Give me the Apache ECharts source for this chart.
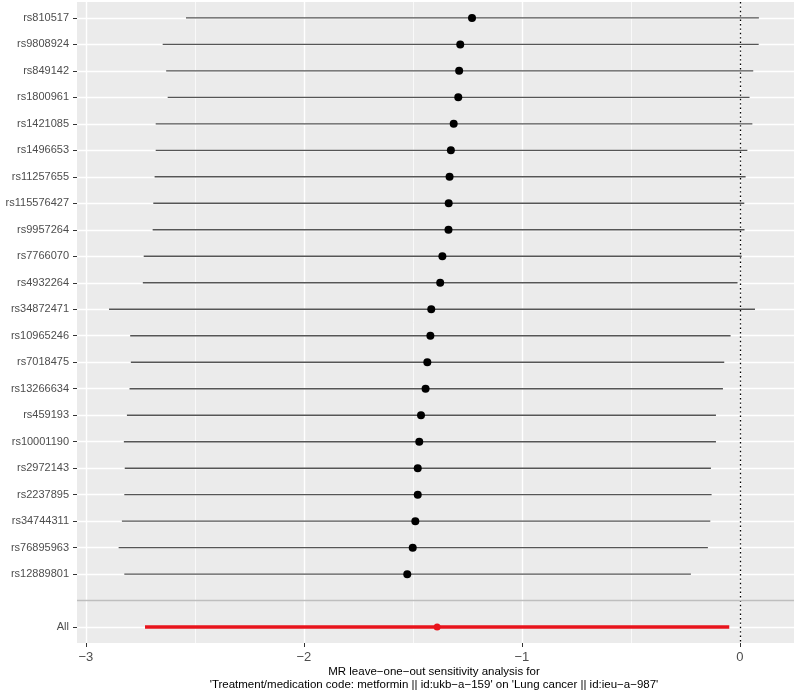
<!DOCTYPE html>
<html>
<head>
<meta charset="utf-8">
<script src="https://cdn.jsdelivr.net/npm/echarts@6/dist/echarts.min.js"></script>
<style>
  html, body { margin: 0; padding: 0; background: #fff; }
  #chart { width: 794px; height: 693px; }
</style>
</head>
<body>
<div id="chart"></div>
<script>
// leave-one-out estimates, top row first
const snps = [
  "rs810517", "rs9808924", "rs849142", "rs1800961", "rs1421085", "rs1496653",
  "rs11257655", "rs115576427", "rs9957264", "rs7766070", "rs4932264", "rs34872471",
  "rs10965246", "rs7018475", "rs13266634", "rs459193", "rs10001190", "rs2972143",
  "rs2237895", "rs34744311", "rs76895963", "rs12889801",
];
const estimates = [
  -1.229, -1.283, -1.288, -1.292, -1.313, -1.326, -1.332, -1.336, -1.337, -1.365, -1.375,
  -1.416, -1.420, -1.434, -1.442, -1.463, -1.471, -1.478, -1.478, -1.489, -1.501, -1.526,
];
const lower = [
  -2.541, -2.648, -2.632, -2.625, -2.680, -2.680, -2.685, -2.691, -2.694, -2.735, -2.739,
  -2.894, -2.797, -2.794, -2.800, -2.812, -2.826, -2.822, -2.824, -2.835, -2.850, -2.824,
];
const upper = [
  0.087, 0.086, 0.061, 0.044, 0.057, 0.034, 0.026, 0.020, 0.021, 0.008, -0.011,
  0.069, -0.043, -0.072, -0.078, -0.110, -0.110, -0.133, -0.130, -0.136, -0.147, -0.225,
];
const overallLabel = "All";
const overallEstimate = [-1.389];
const overallLower = [-2.729];
const overallUpper = [-0.049];
const xTicks = [-3, -2, -1, 0];
const xMinorTicks = [-2.5, -1.5, -0.5];

const rowLabels = [...snps, "", overallLabel];
const blankRow = snps.length;
const allRow = snps.length + 1;
const rowTicks = rowLabels.map((_, i) => i).filter((i) => i !== blankRow);

const font = "Liberation Sans";
const minus = (v) => (v < 0 ? "\u2212" + -v : String(v));

function errorBar(color, width) {
  return (params, api) => {
    const a = api.coord([api.value(0), api.value(2)]);
    const b = api.coord([api.value(1), api.value(2)]);
    return {
      type: "line",
      shape: { x1: a[0], y1: a[1], x2: b[0], y2: b[1] },
      style: { stroke: color, lineWidth: width },
    };
  };
}

const chart = echarts.init(document.getElementById("chart"));

const option = {
  animation: false,
  textStyle: { fontFamily: font },
  grid: {
    left: 77,
    right: 0,
    top: 2,
    bottom: 50,
    show: true,
    backgroundColor: "#EBEBEB",
    borderWidth: 0,
  },
  xAxis: [
    {
      type: "value",
      min: -3.041,
      max: 0.248,
      axisLine: { show: false, onZero: false },
      axisTick: { show: true, customValues: xTicks, length: 4, lineStyle: { color: "#333" } },
      axisLabel: {
        customValues: xTicks,
        formatter: minus,
        color: "#4D4D4D",
        fontSize: 13,
        margin: 8,
      },
      splitLine: { lineStyle: { color: "#fff", width: 1.4 } },
    },
    {
      type: "value",
      min: -3.041,
      max: 0.248,
      position: "bottom",
      axisLine: { show: false, onZero: false },
      axisTick: { show: false, customValues: xMinorTicks },
      axisLabel: { show: false, customValues: xMinorTicks },
      splitLine: { lineStyle: { color: "#fff", width: 0.7 } },
    },
  ],
  yAxis: {
    type: "value",
    inverse: true,
    min: -0.6,
    max: rowLabels.length - 0.4,
    axisLine: { show: false, onZero: false },
    axisTick: { show: true, customValues: rowTicks, length: 4, lineStyle: { color: "#333" } },
    axisLabel: {
      customValues: rowTicks,
      formatter: (v) => rowLabels[v],
      color: "#4D4D4D",
      fontSize: 11,
      margin: 8,
    },
    splitLine: { lineStyle: { color: "#fff", width: 1.4 } },
  },
  series: [
    {
      type: "custom",
      name: "leave-one-out",
      renderItem: errorBar("#555", 1.4),
      encode: { x: [0, 1], y: 2 },
      data: snps.map((s, i) => [lower[i], upper[i], i]),
      z: 2,
      markLine: {
        silent: true,
        symbol: "none",
        label: { show: false },
        data: [
          { xAxis: 0, lineStyle: { color: "#000", width: 1.3, type: [1.4, 3] } },
          { yAxis: blankRow, lineStyle: { color: "#BEBEBE", width: 1.4, type: "solid" } },
        ],
      },
    },
    {
      type: "scatter",
      data: estimates.map((v, i) => [v, i]),
      symbolSize: 8,
      itemStyle: { color: "#000", opacity: 1 },
      z: 3,
    },
    {
      type: "custom",
      name: "all",
      renderItem: errorBar("#E8141C", 3.5),
      encode: { x: [0, 1], y: 2 },
      data: overallEstimate.map((v, i) => [overallLower[i], overallUpper[i], allRow]),
      z: 2,
    },
    {
      type: "scatter",
      data: overallEstimate.map((v) => [v, allRow]),
      symbolSize: 7,
      itemStyle: { color: "#E8141C", opacity: 1 },
      z: 3,
    },
  ],
  graphic: [
    {
      type: "text",
      x: 434,
      y: 666,
      style: {
        text:
          "MR leave\u2212one\u2212out sensitivity analysis for\n" +
          "'Treatment/medication code: metformin || id:ukb\u2212a\u2212159' on 'Lung cancer || id:ieu\u2212a\u2212987'",
        align: "center",
        font: '11.5px "' + font + '"',
        lineHeight: 12.5,
        fill: "#000",
      },
    },
  ],
};

chart.setOption(option);
</script>
</body>
</html>
